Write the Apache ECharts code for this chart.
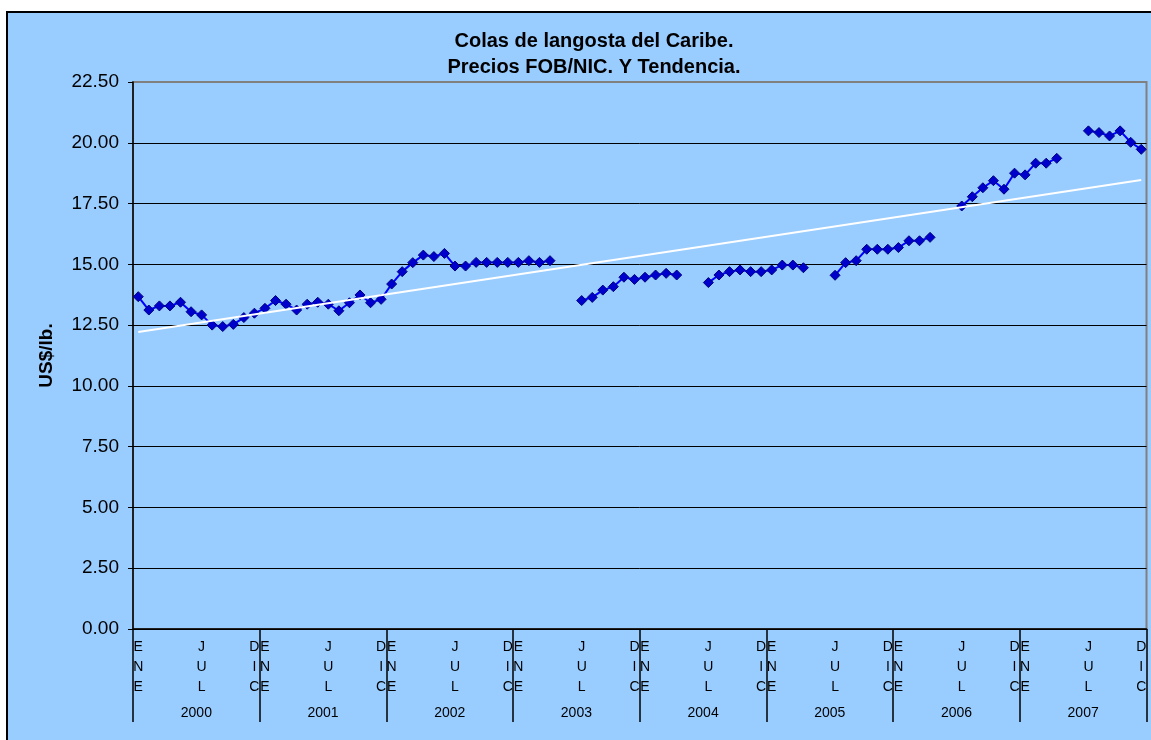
<!DOCTYPE html>
<html>
<head>
<meta charset="utf-8">
<title>Colas de langosta del Caribe</title>
<script src="https://cdn.jsdelivr.net/npm/echarts@6/dist/echarts.min.js"></script>
<style>
  html, body { margin: 0; padding: 0; background: #fff; overflow: hidden; }
  #frame {
    position: absolute; left: 6px; top: 11px;
    width: 1200px; height: 800px;
    background: #99ccff;
    border-left: 2px solid #000; border-top: 2px solid #000;
  }
  #chart { position: absolute; left: 0; top: 0; width: 1151px; height: 740px; }
</style>
</head>
<body>
<div id="frame"></div>
<div id="chart"></div>
<script>
// meses y años del eje
const months = ['ENE', 'FEB', 'MAR', 'ABR', 'MAY', 'JUN', 'JUL', 'AGO', 'SEP', 'OCT', 'NOV', 'DIC']
const years = ['2000', '2001', '2002', '2003', '2004', '2005', '2006', '2007']
const labeledMonths = ['ENE', 'JUL', 'DIC']

// precios US$/lb. por año (null = sin dato, veda)
const p2000 = [13.67, 13.12, 13.29, 13.29, 13.44, 13.05, 12.92, 12.50, 12.44, 12.53, 12.81, 12.99]
const p2001 = [13.19, 13.51, 13.36, 13.12, 13.36, 13.44, 13.36, 13.09, 13.42, 13.74, 13.42, 13.56]
const p2002 = [14.19, 14.70, 15.07, 15.38, 15.32, 15.45, 14.93, 14.93, 15.08, 15.08, 15.08, 15.08]
const p2003 = [15.08, 15.15, 15.08, 15.15, null, null, 13.51, 13.64, 13.94, 14.08, 14.47, 14.38]
const p2004 = [14.47, 14.56, 14.63, 14.56, null, null, 14.25, 14.56, 14.70, 14.77, 14.70, 14.70]
const p2005 = [14.77, 14.97, 14.97, 14.86, null, null, 14.55, 15.07, 15.15, 15.62, 15.62, 15.62]
const p2006 = [15.69, 15.97, 15.97, 16.11, null, null, 17.40, 17.78, 18.15, 18.44, 18.09, 18.75]
const p2007 = [18.68, 19.16, 19.16, 19.36, null, null, 20.49, 20.42, 20.28, 20.49, 20.02, 19.73]

// tendencia lineal: valor al inicio (ENE 2000) y al final (DIC 2007)
const trendStart = 12.22
const trendEnd = 18.47

const yTicks = { min: 0, max: 22.5, interval: 2.5 }

const categories = []
years.forEach(y => months.forEach(m => categories.push(m + ' ' + y)))
const prices = [].concat(p2000, p2001, p2002, p2003, p2004, p2005, p2006, p2007)
const trend = categories.map((c, i) => i === 0 ? trendStart : (i === categories.length - 1 ? trendEnd : null))

const font = 'Liberation Sans, Arial, sans-serif'

const chart = echarts.init(document.getElementById('chart'), null, { renderer: 'canvas' })
const option = {
  animation: false,
  backgroundColor: 'transparent',
  title: {
    text: 'Colas de langosta del Caribe.\nPrecios FOB/NIC. Y Tendencia.',
    left: 589,
    top: 23,
    textAlign: 'center',
    textStyle: { fontFamily: font, fontSize: 20, fontWeight: 'bold', color: '#000', lineHeight: 26 }
  },
  grid: {
    left: 133, top: 82, right: 4.5, bottom: 111,
    show: true, borderColor: '#808080', borderWidth: 2, backgroundColor: 'transparent'
  },
  xAxis: [
    {
      type: 'category',
      data: categories,
      boundaryGap: true,
      axisLine: { lineStyle: { color: '#000', width: 1.5 } },
      axisTick: { show: false },
      axisLabel: {
        interval: 0,
        margin: 8,
        fontFamily: font,
        fontSize: 14,
        lineHeight: 20,
        color: '#000',
        formatter: function (v) {
          const m = v.split(' ')[0]
          return labeledMonths.indexOf(m) >= 0 ? m.split('').join('\n') : ''
        }
      }
    },
    {
      type: 'category',
      data: years,
      position: 'bottom',
      offset: 93,
      boundaryGap: true,
      axisLine: { show: false },
      axisTick: { show: true, inside: true, length: 93, interval: 0, lineStyle: { color: '#000', width: 1.5 } },
      axisLabel: { inside: true, margin: 2, interval: 0, fontFamily: font, fontSize: 14, color: '#000' }
    }
  ],
  yAxis: {
    type: 'value',
    min: yTicks.min,
    max: yTicks.max,
    interval: yTicks.interval,
    name: 'US$/lb.',
    nameLocation: 'middle',
    nameGap: 77,
    nameTextStyle: { fontFamily: font, fontSize: 19, fontWeight: 'bold', color: '#000' },
    axisLine: { show: true, lineStyle: { color: '#000', width: 1.5 } },
    axisTick: { show: true, length: 5, lineStyle: { color: '#000' } },
    axisLabel: {
      margin: 14,
      fontFamily: font,
      fontSize: 19,
      color: '#000',
      formatter: v => v.toFixed(2)
    },
    splitLine: { show: true, showMaxLine: false, lineStyle: { color: '#000', width: 1 } }
  },
  series: [
    {
      name: 'Precio',
      type: 'line',
      data: prices,
      connectNulls: false,
      symbol: 'diamond',
      symbolSize: 10,
      lineStyle: { color: '#0000ff', width: 2 },
      itemStyle: { color: '#0000cc', borderColor: '#000080', borderWidth: 1 },
      z: 2
    },
    {
      name: 'Tendencia',
      type: 'line',
      data: trend,
      connectNulls: true,
      symbol: 'none',
      lineStyle: { color: '#fff', width: 2 },
      z: 3
    }
  ]
}
chart.setOption(option)
window.addEventListener('resize', function () {
  chart.resize()
})
</script>
</body>
</html>
